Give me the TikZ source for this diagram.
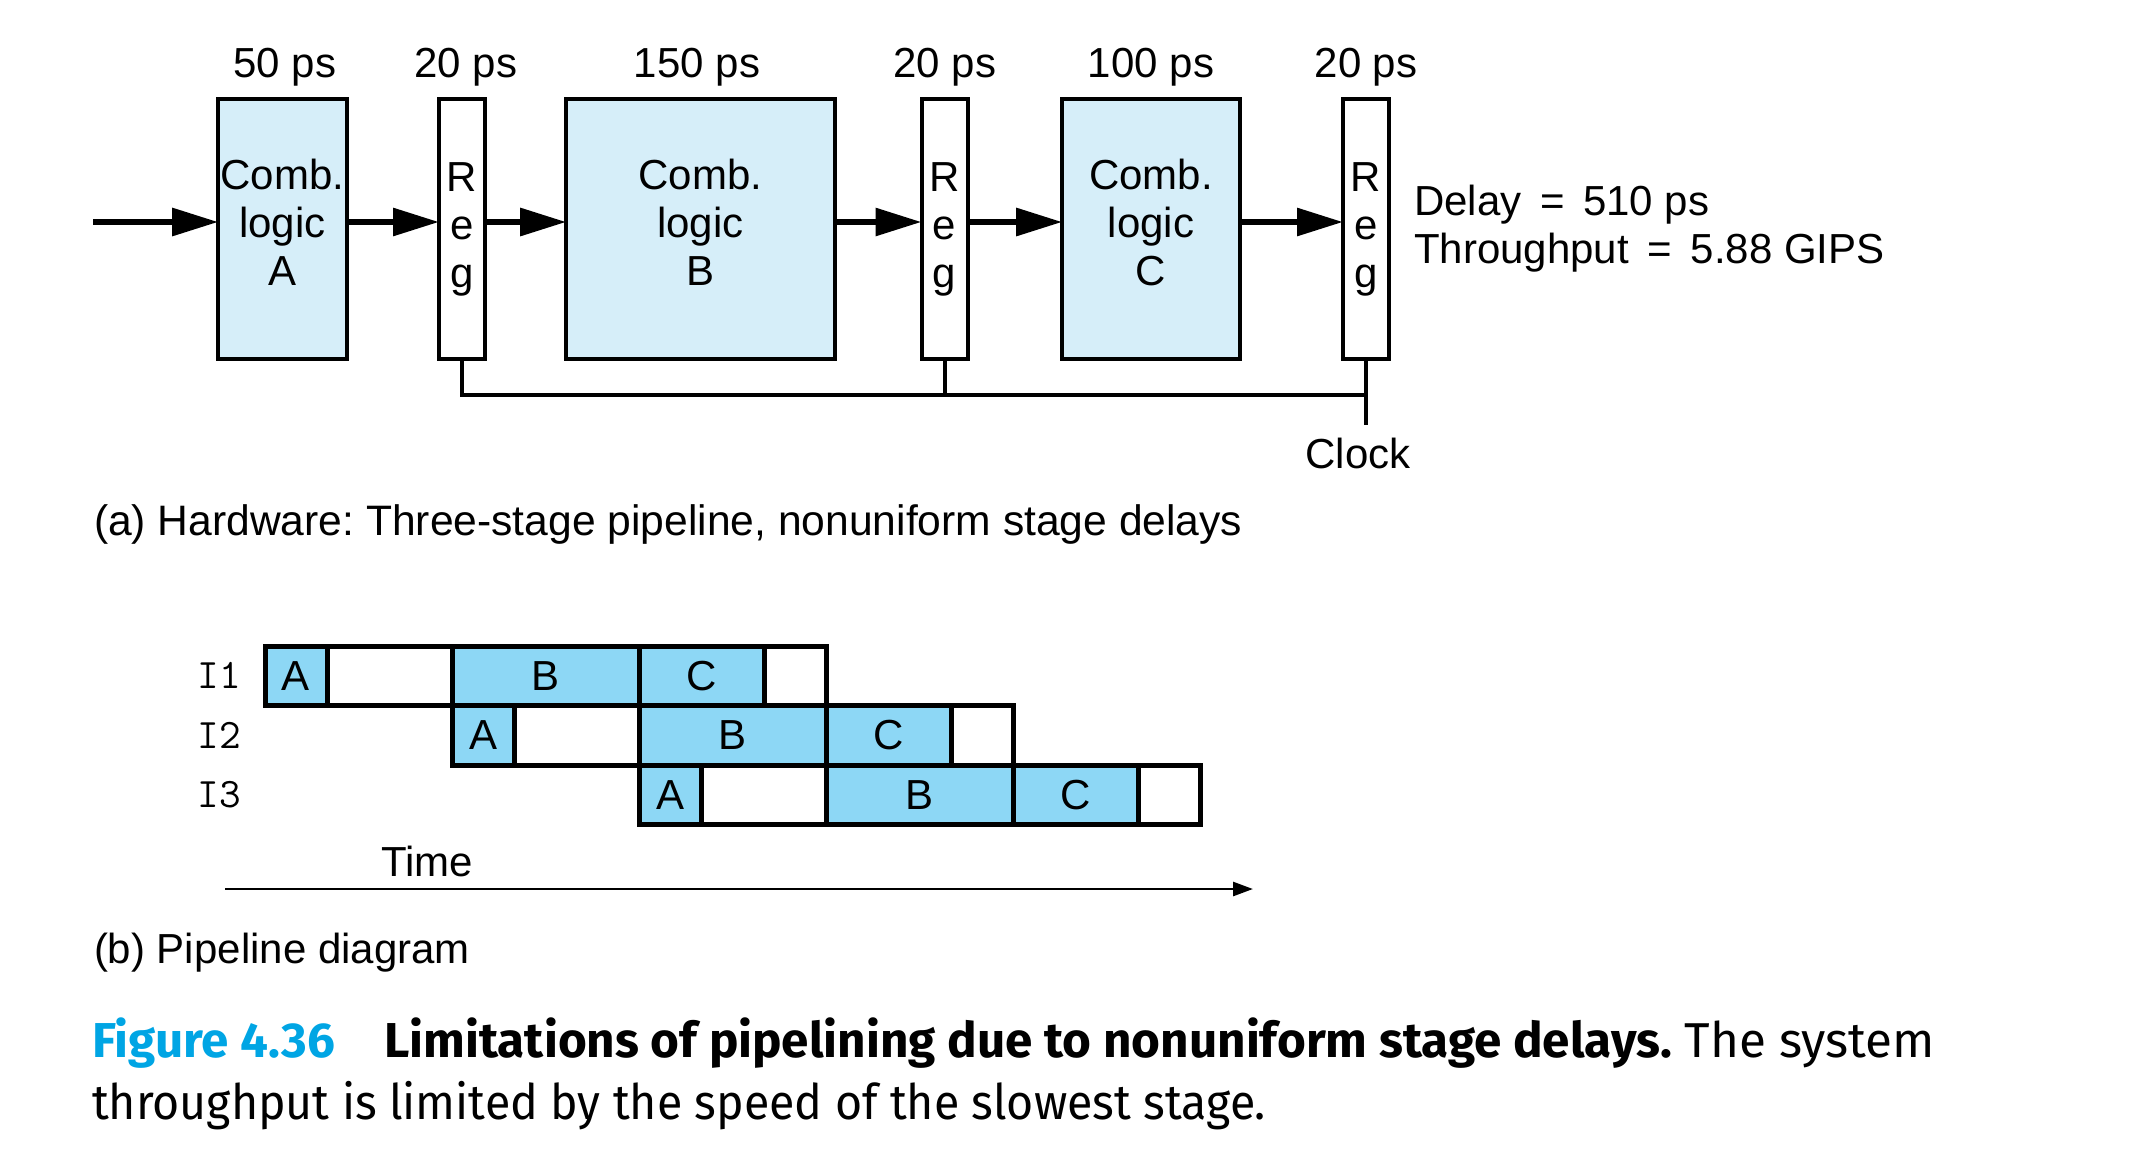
\documentclass[tikz,border=0pt]{standalone}
\usepackage{fontspec}
\setmainfont{Liberation Sans}
\newfontfamily\capfont{Fira Sans}
\usetikzlibrary{arrows.meta}
\definecolor{combfill}{RGB}{214,238,249}
\definecolor{cellfill}{RGB}{141,215,245}
\definecolor{figcyan}{RGB}{0,165,228}
\frenchspacing
\begin{document}
\begin{tikzpicture}[x=0.5pt,y=-0.5pt,
  every node/.style={inner sep=0pt, outer sep=0pt, font=\fontsize{21}{24}\selectfont},
  comb/.style={draw, line width=2.2pt, fill=combfill, align=center, minimum height=129.8pt},
  regbox/.style={draw, line width=2pt, fill=white, align=center, minimum width=23pt, minimum height=129.8pt},
  bigarrow/.style={line width=3pt, -{Triangle[length=23pt,width=13.5pt]}},
  clockline/.style={line width=2pt},
  cellbase/.style={draw, line width=2.5pt, minimum height=29.75pt, anchor=west},
  cellA/.style={cellbase, fill=cellfill, minimum width=31pt},
  cellB/.style={cellbase, fill=cellfill, minimum width=93.5pt},
  cellC/.style={cellbase, fill=cellfill, minimum width=62.5pt},
  cellW/.style={cellbase, fill=white},
  timearrow/.style={line width=1.4pt, -{Triangle[length=10pt,width=7pt]}},
  ilabel/.style={font=\fontsize{21}{24}\selectfont\ttfamily}
]
\useasboundingbox (0,0) rectangle (2134,1162);

% ---- (a) hardware ----
\node[comb, minimum width=64.3pt] (A) at (282.5,229) {Comb.\\logic\\A\strut};
\node[regbox] (R1) at (462,229) {R\\e\\g};
\node[comb, minimum width=134.3pt] (B) at (700.5,229) {Comb.\\logic\\B\strut};
\node[regbox] (R2) at (944.5,229) {R\\e\\g};
\node[comb, minimum width=88.8pt] (C) at (1151,229) {Comb.\\logic\\C\strut};
\node[regbox] (R3) at (1366,229) {R\\e\\g};

\node[anchor=base] (dA) at (285,77) {50 ps};
\node[anchor=base] (d1) at (466,77) {20 ps};
\node[anchor=base] (dB) at (697,77) {150 ps};
\node[anchor=base] (d2) at (945,77) {20 ps};
\node[anchor=base] (dC) at (1151,77) {100 ps};
\node[anchor=base] (d3) at (1366,77) {20 ps};

\coordinate (in) at (93,222);
\draw[bigarrow] (in) -- (A.west |- in);
\draw[bigarrow] (A.east |- in) -- (R1.west |- in);
\draw[bigarrow] (R1.east |- in) -- (B.west |- in);
\draw[bigarrow] (B.east |- in) -- (R2.west |- in);
\draw[bigarrow] (R2.east |- in) -- (C.west |- in);
\draw[bigarrow] (C.east |- in) -- (R3.west |- in);

\coordinate (bus) at (1366,395);
\coordinate (clk) at (1366,425);
\draw[clockline] (R1.south) |- (bus);
\draw[clockline] (R2.south) -- (R2.south |- bus);
\draw[clockline] (R3.south) -- (clk);
\node[anchor=base] (clock) at (1358,468) {Clock};

\node[anchor=west, align=left] (perf) at (1414,228.5) {Delay \,=\, 510 ps\\Throughput \,=\, 5.88 GIPS};

\node[anchor=base west] (capa) at (94,535) {\fontsize{21.3}{24}\selectfont(a) Hardware: Three-stage pipeline, nonuniform stage delays};

% ---- (b) pipeline diagram ----
\foreach \k/\lab in {0/1,1/2,2/3} {
  \pgfmathsetmacro\s{265+187*\k}
  \pgfmathsetmacro\ym{675.75+59.5*\k}
  \node[cellA] (pa\lab) at (\s,\ym) {A};
  \node[cellW, minimum width=62.5pt] (pw\lab) at (pa\lab.east) {};
  \node[cellB] (pb\lab) at (pw\lab.east) {B};
  \node[cellC] (pc\lab) at (pb\lab.east) {C};
  \node[cellW, minimum width=31pt] (px\lab) at (pc\lab.east) {};
  \node[ilabel] (il\lab) at (219,\ym) {I\lab};
}

\coordinate (t0) at (225,889);
\coordinate (t1) at (1253,889);
\draw[timearrow] (t0) -- (t1);
\node[anchor=base] (time) at (427,876) {Time};

\node[anchor=base west] (capb) at (94,963) {(b) Pipeline diagram};

% ---- caption ----
\node[anchor=base west] (caption) at (92,1057) {\capfont\fontsize{24.5}{30.5}\selectfont
  \begin{tabular}[t]{@{}l@{}}
  \resizebox{921.5pt}{\height}{{\bfseries\color{figcyan}Figure 4.36}\hspace{1em}{\bfseries Limitations of pipelining due to nonuniform stage delays.} The system}\\[0.6pt]
  \resizebox{587pt}{\height}{throughput is limited by the speed of the slowest stage.}
  \end{tabular}};
\end{tikzpicture}
\end{document}
